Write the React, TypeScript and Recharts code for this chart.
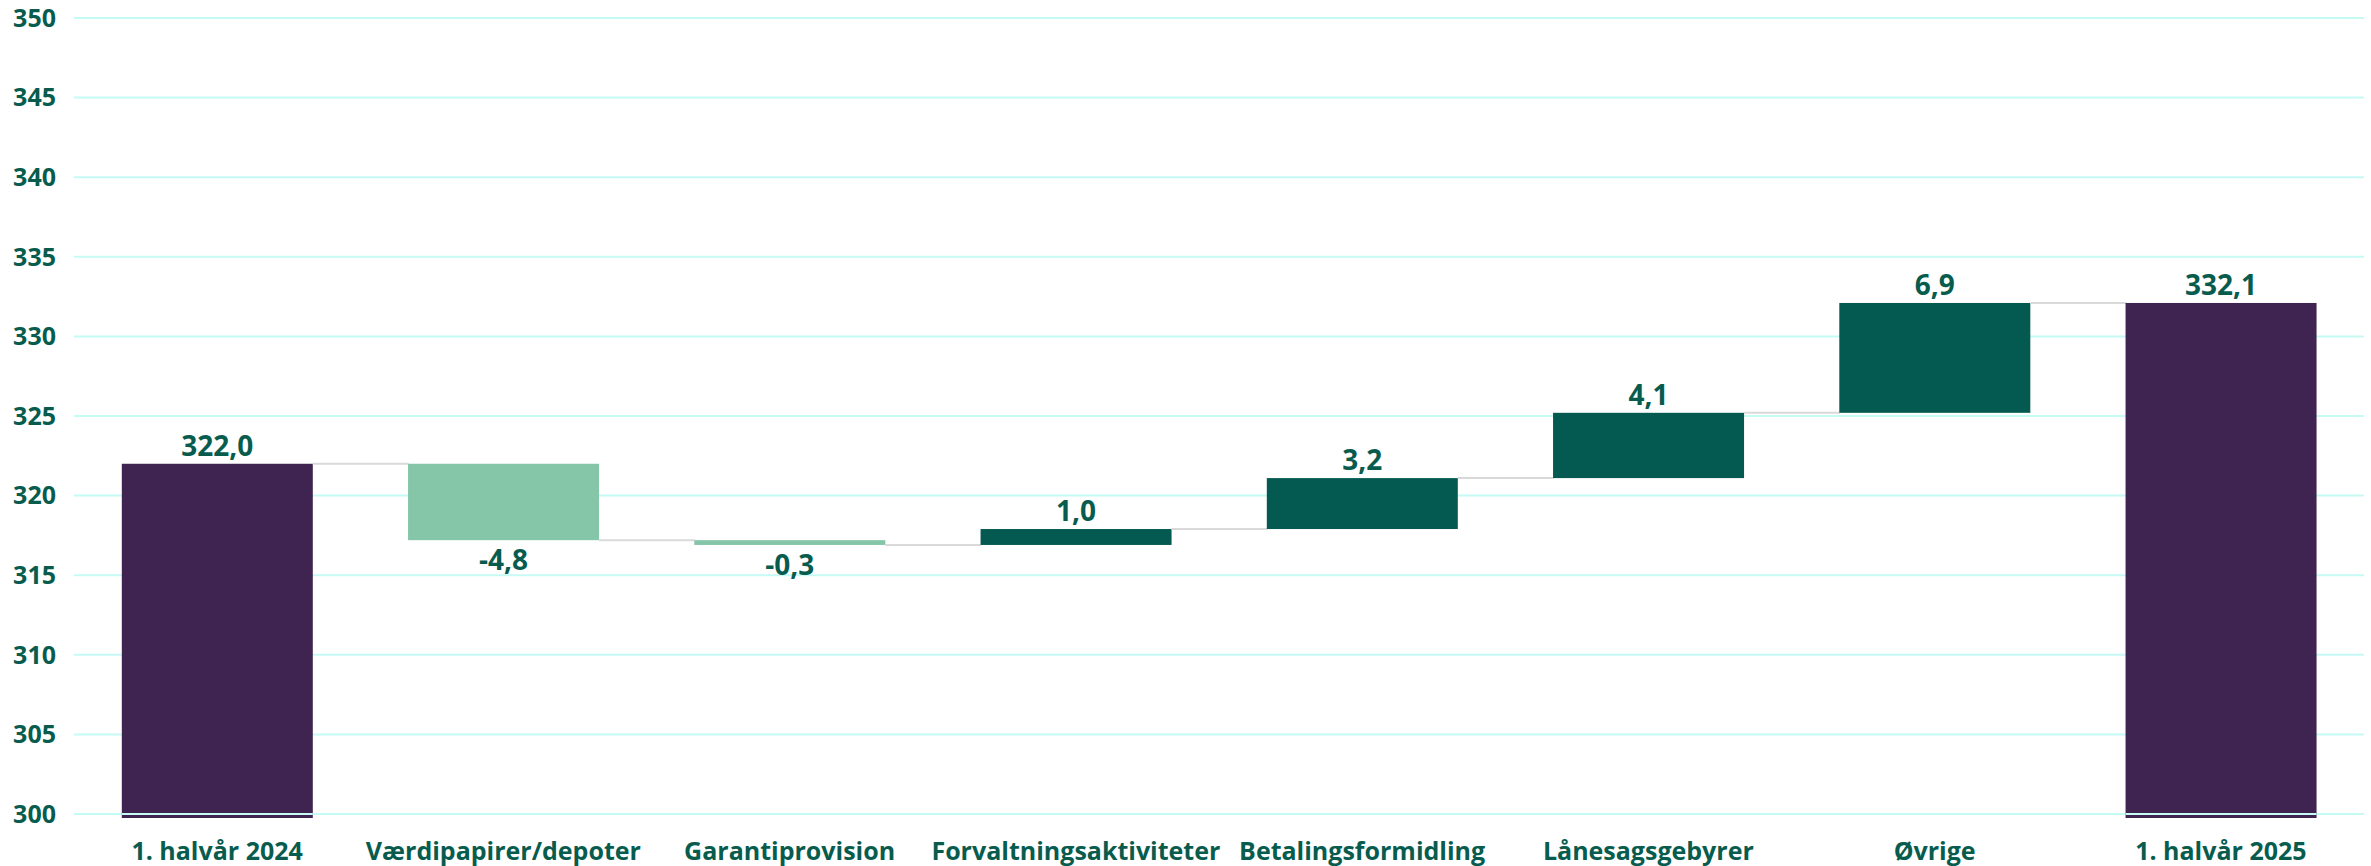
import React from 'react';
import { ComposedChart, Bar, XAxis, YAxis, CartesianGrid } from 'recharts';

const categories = [
  '1. halvår 2024',
  'Værdipapirer/depoter',
  'Garantiprovision',
  'Forvaltningsaktiviteter',
  'Betalingsformidling',
  'Lånesagsgebyrer',
  'Øvrige',
  '1. halvår 2025',
];
const values = [322.0, -4.8, -0.3, 1.0, 3.2, 4.1, 6.9, 332.1];
const kinds = ['total', 'delta', 'delta', 'delta', 'delta', 'delta', 'delta', 'total'];
const yTicks = [300, 305, 310, 315, 320, 325, 330, 335, 340, 345, 350];
const AXIS_MIN = 300;
const AXIS_MAX = 350;

const COLOR_TOTAL = '#3F2350';
const COLOR_POS = '#045A51';
const COLOR_NEG = '#85C5A8';
const COLOR_TEXT = '#085C4E';
const COLOR_GRID = '#C6FAF5';
const COLOR_CONN = '#D9D9D9';
const FONT = '"Open Sans", sans-serif';
const GAP_FRAC = 0.167;

type Row = { name: string; range: [number, number]; delta: number; kind: string };

const data: Row[] = (() => {
  let level = 0;
  return categories.map((name, i) => {
    const v = values[i];
    if (kinds[i] === 'total') {
      level = v;
      return { name, range: [AXIS_MIN, v] as [number, number], delta: v, kind: 'total' };
    }
    const start = level;
    level = Math.round((level + v) * 10) / 10;
    return {
      name,
      range: [Math.min(start, level), Math.max(start, level)] as [number, number],
      delta: v,
      kind: 'delta',
    };
  });
})();

const fmt = (v: number) => v.toFixed(1).replace('.', ',');

const WaterfallShape = (props: any) => {
  const { x, y, width, height, payload, index } = props;
  const top = Math.min(y, y + height);
  const h = Math.abs(height);
  const isTotal = payload.kind === 'total';
  const neg = payload.delta < 0;
  const fill = isTotal ? COLOR_TOTAL : neg ? COLOR_NEG : COLOR_POS;
  const levelY = neg ? top + h : top;
  const conn = (width * 2 * GAP_FRAC) / (1 - 2 * GAP_FRAC);
  const labelY = neg ? top + h + 30 : top - 8;
  return (
    <g>
      <rect x={x} y={top} width={width} height={h + (isTotal ? 4 : 0)} fill={fill} />
      {isTotal && (
        <line x1={x} x2={x + width} y1={top + h} y2={top + h} stroke={COLOR_GRID} strokeWidth={2} />
      )}
      {index < data.length - 1 && (
        <line
          x1={x + width}
          x2={x + width + conn}
          y1={levelY}
          y2={levelY}
          stroke={COLOR_CONN}
          strokeWidth={2}
        />
      )}
      <text
        x={x + width / 2}
        y={labelY}
        textAnchor="middle"
        fill={COLOR_TEXT}
        fontFamily={FONT}
        fontWeight={700}
        fontSize={28}
      >
        {fmt(payload.delta)}
      </text>
    </g>
  );
};

export default function App() {
  return (
    <div style={{ position: 'absolute', left: 0, top: 0, width: 2371, height: 866, background: '#fff' }}>
      <ComposedChart
        width={2371}
        height={866}
        data={data}
        margin={{ top: 18, right: 7, bottom: 0, left: 0 }}
        barCategoryGap={`${GAP_FRAC * 100}%`}
      >
        <CartesianGrid vertical={false} stroke={COLOR_GRID} strokeWidth={2} />
        <XAxis
          dataKey="name"
          axisLine={false}
          tickLine={false}
          tickSize={0}
          tickMargin={28}
          height={52}
          interval={0}
          tick={{ fill: COLOR_TEXT, fontFamily: FONT, fontWeight: 700, fontSize: 25 }}
        />
        <YAxis
          domain={[AXIS_MIN, AXIS_MAX]}
          ticks={yTicks}
          axisLine={false}
          tickLine={false}
          tickSize={0}
          tickMargin={18}
          width={74}
          tick={{ fill: COLOR_TEXT, fontFamily: FONT, fontWeight: 700, fontSize: 25 }}
        />
        <Bar dataKey="range" shape={WaterfallShape} isAnimationActive={false} />
      </ComposedChart>
    </div>
  );
}
